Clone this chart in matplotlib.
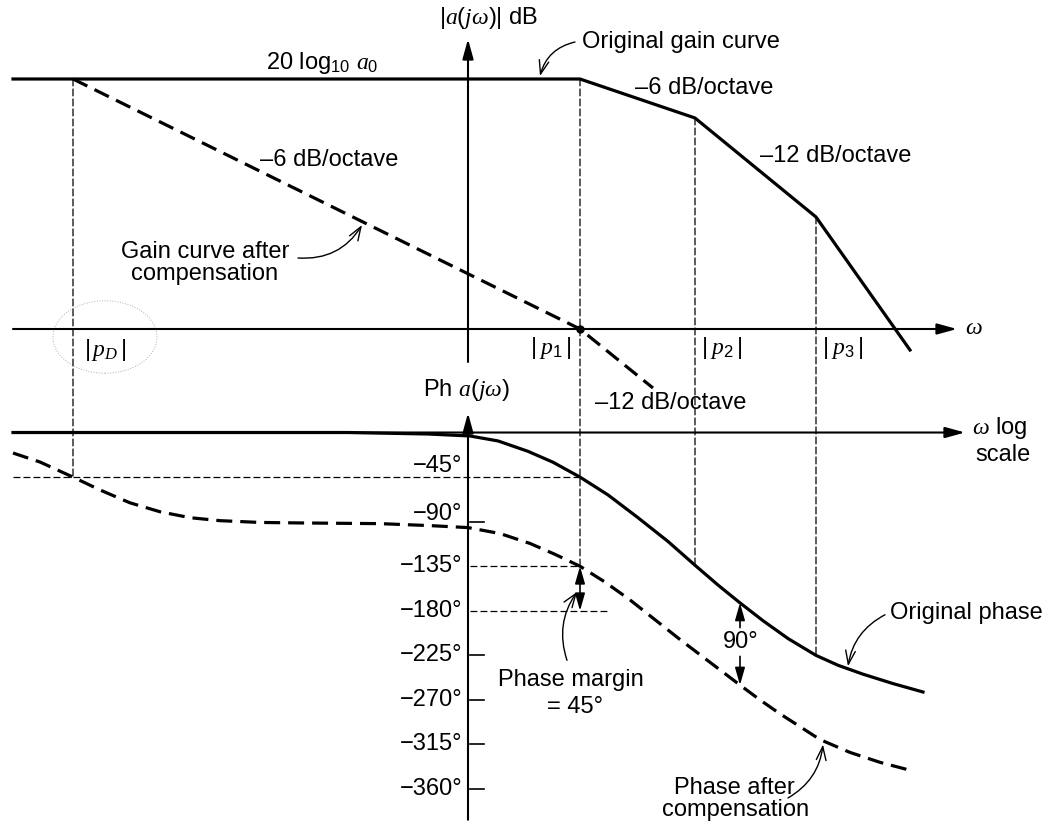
import numpy as np
import matplotlib.pyplot as plt
from matplotlib.patches import ConnectionPatch, Ellipse

plt.rcParams['font.family'] = 'Liberation Sans'
plt.rcParams['mathtext.fontset'] = 'custom'
plt.rcParams['mathtext.rm'] = 'Liberation Sans'
plt.rcParams['mathtext.it'] = 'Liberation Serif:italic'
plt.rcParams['font.size'] = 17

# x: log-frequency position (arbitrary units, 0 at the vertical axes)
x_left = -4.55
w_pD, w_p1, w_p2, w_p3 = -3.95, 1.12, 2.27, 3.48

# gain in dB (20 log10 a0 drawn at 100)
gain_orig_x = [x_left, w_p1, w_p2, w_p3, 4.42]
gain_orig_y = [100, 100, 84.4, 44.8, -8.4]
gain_comp_x = [w_pD, w_p1, 1.85]
gain_comp_y = [100, 0, -23.6]

# phase in degrees
phase_orig_x = [x_left, -1.2, -0.4, 0.02, 0.3, 0.6, 0.85, 1.12, 1.4, 1.7, 2.0, 2.27,
                2.5, 2.72, 2.95, 3.2, 3.48, 3.7, 3.95, 4.25, 4.55]
phase_orig_y = [0, 0, -1.5, -3.5, -8.5, -19, -30, -45, -63, -86, -110, -134,
                -154, -172, -190, -208, -225, -235, -244, -253.5, -262]
phase_comp_x = [x_left, -4.28, -3.95, -3.68, -3.38, -3.08, -2.78, -2.48, -2.08, -1.68,
                -0.88, -0.38, 0.0, 0.32, 0.62, 0.87, 1.12, 1.37, 1.62, 1.87, 2.12,
                2.42, 2.72, 2.92, 3.12, 3.32, 3.52, 3.82, 4.12, 4.42]
phase_comp_y = [-20.7, -29.8, -45, -58, -71, -80, -86, -89, -90.8, -91.3,
                -92, -94, -96, -102, -112, -123, -135, -151, -169, -189, -209,
                -232, -255, -270, -284, -297, -310, -323, -333, -341]

phase_ticks = [-45, -90, -135, -180, -225, -270, -315, -360]
phase_labels = ['\u2212%d°' % abs(t) for t in phase_ticks]
label_lift = [11, 8, 0, 0, 0, 0, 0, 0]   # first two labels sit a bit above their lines

fig = plt.figure(figsize=(10.51, 8.27), dpi=100)
ax = fig.add_axes([0, 0, 1, 1])
ax.set_xlim(-4.68, 5.83)
ax.set_ylim(-199.2, 131.6)
axp = ax.twinx()
axp.set_ylim(-398.3, 436.7)
ax.axis('off')
axp.axis('off')

thick = 2.3
thin_dash = (0, (5.5, 2.5))
big_dash = (0, (5, 2.5))
head = '-|>,head_length=0.8,head_width=0.22'
akw = dict(arrowstyle=head, color='k', lw=1.5, mutation_scale=15, shrinkA=0, shrinkB=0)

# ---- gain plot ----
ax.annotate('', xy=(4.89, 0), xytext=(x_left, 0), arrowprops=akw)
ax.annotate('', xy=(0, 116), xytext=(0, -13.2), arrowprops=akw)
ax.plot(gain_orig_x, gain_orig_y, color='k', lw=thick, solid_joinstyle='miter', zorder=5)
ax.plot(gain_comp_x, gain_comp_y, color='k', lw=thick, ls=big_dash, zorder=5)
ax.plot([w_p1], [0], 'o', color='k', ms=5, zorder=6)

# ---- phase plot ----
axp.annotate('', xy=(4.97, 0), xytext=(x_left, 0), arrowprops=akw)
axp.annotate('', xy=(0, 19.7), xytext=(0, -391), arrowprops=akw)
axp.plot(phase_orig_x, phase_orig_y, color='k', lw=thick, zorder=5)
axp.plot(phase_comp_x, phase_comp_y, color='k', lw=thick, ls=big_dash, zorder=5)

for t, lab, lift in zip(phase_ticks, phase_labels, label_lift):
    axp.text(-0.06, t + lift, lab, ha='right', va='center')
    if t in (-90, -225, -270, -315, -360):
        axp.plot([0.02, 0.16], [t, t], color='k', lw=1.2)

# guide lines
axp.plot([x_left, w_p1], [-45, -45], color='k', lw=0.9, ls=thin_dash)
axp.plot([0.02, w_p1], [-135, -135], color='k', lw=0.9, ls=thin_dash)
axp.plot([0.02, 1.39], [-180, -180], color='k', lw=0.9, ls=thin_dash)

verticals = [(w_pD, gain_comp_y[0], phase_comp_y[2]),
             (w_p1, gain_orig_y[1], phase_comp_y[16]),
             (w_p2, gain_orig_y[2], phase_orig_y[11]),
             (w_p3, gain_orig_y[3], phase_orig_y[16])]
for w, g, ph in verticals:
    con = ConnectionPatch(xyA=(w, g), coordsA=ax.transData, xyB=(w, ph), coordsB=axp.transData,
                          color='k', lw=0.9, linestyle=thin_dash)
    axp.add_artist(con)

# phase margin and 90 degree arrows
dbl = dict(arrowstyle='<|-|>,head_length=0.7,head_width=0.2', color='k', lw=1.2,
           mutation_scale=15, shrinkA=0, shrinkB=0)
axp.annotate('', xy=(w_p1, -180), xytext=(w_p1, -135), arrowprops=dbl)
one = dict(dbl, arrowstyle='-|>,head_length=0.7,head_width=0.2')
axp.annotate('', xy=(2.72, phase_orig_y[13]), xytext=(2.72, -197), arrowprops=one)
axp.annotate('', xy=(2.72, phase_comp_y[22]), xytext=(2.72, -226), arrowprops=one)
axp.text(2.73, -211.5, '90°', ha='center', va='center')

# ---- labels ----
ax.text(0.21, 124.4, r'$|a(j\omega)|$ dB', ha='center', va='center')
ax.text(-1.46, 106.4, r'20 log$_{10}$ $a_0$', ha='center', va='center')
ax.text(1.14, 114.8, 'Original gain curve', ha='left', va='center')
ax.text(1.67, 96.4, '\u20136 dB/octave', ha='left', va='center')
ax.text(2.92, 69.2, '\u201312 dB/octave', ha='left', va='center')
ax.text(-2.08, 67.6, '\u20136 dB/octave', ha='left', va='center')
ax.text(-2.63, 26.4, 'Gain curve after\ncompensation', ha='center', va='center',
        multialignment='center', linespacing=1.0)
ax.text(-3.63, -8.4, r'$|\,p_D\,|$', ha='center', va='center')
ax.text(0.83, -7.6, r'$|\;p_1\,|$', ha='center', va='center')
ax.text(2.54, -7.6, r'$|\;p_2\,|$', ha='center', va='center')
ax.text(3.75, -7.6, r'$|\;p_3\,|$', ha='center', va='center')
ax.text(4.97, 0.4, r'$\omega$', ha='left', va='center')
ax.text(-0.02, -24.4, r'Ph $a(j\omega)$', ha='center', va='center')
ax.text(1.27, -29.6, '\u201312 dB/octave', ha='left', va='center')

axp.text(5.04, 4.5, r'$\omega$ log', ha='left', va='center')
axp.text(5.07, -22.7, 'scale', ha='left', va='center')
axp.text(4.22, -182.2, 'Original phase', ha='left', va='center')
axp.text(1.03, -249.9, 'Phase margin', ha='center', va='center')
axp.text(1.07, -277.1, '= 45°', ha='center', va='center')
axp.text(2.66, -358.9, 'Phase after', ha='center', va='center')
axp.text(2.68, -381, 'compensation', ha='center', va='center')

# curved pointer arrows
ptr = dict(arrowstyle='->,head_length=0.7,head_width=0.25', color='k', lw=1.0,
           mutation_scale=14, shrinkA=0, shrinkB=0)
ax.annotate('', xy=(0.72, 101.2), xytext=(1.07, 114.8),
            arrowprops=dict(ptr, connectionstyle='arc3,rad=0.3'))
ax.annotate('', xy=(-1.06, 41.6), xytext=(-1.70, 28.4),
            arrowprops=dict(ptr, connectionstyle='arc3,rad=0.3'))
axp.annotate('', xy=(1.09, -161), xytext=(0.99, -230),
             arrowprops=dict(ptr, connectionstyle='arc3,rad=-0.25'))
axp.annotate('', xy=(3.80, -236), xytext=(4.17, -184),
             arrowprops=dict(ptr, connectionstyle='arc3,rad=0.25'))
axp.annotate('', xy=(3.55, -315), xytext=(3.20, -369),
             arrowprops=dict(ptr, connectionstyle='arc3,rad=0.25'))

# pencil mark around |p_D| in the scan
ax.add_patch(Ellipse((-3.63, -3.2), 1.04, 29, fill=False, ec='#b0b0b0', lw=0.7, ls=':'))

fig.savefig('out.png', dpi=100)
